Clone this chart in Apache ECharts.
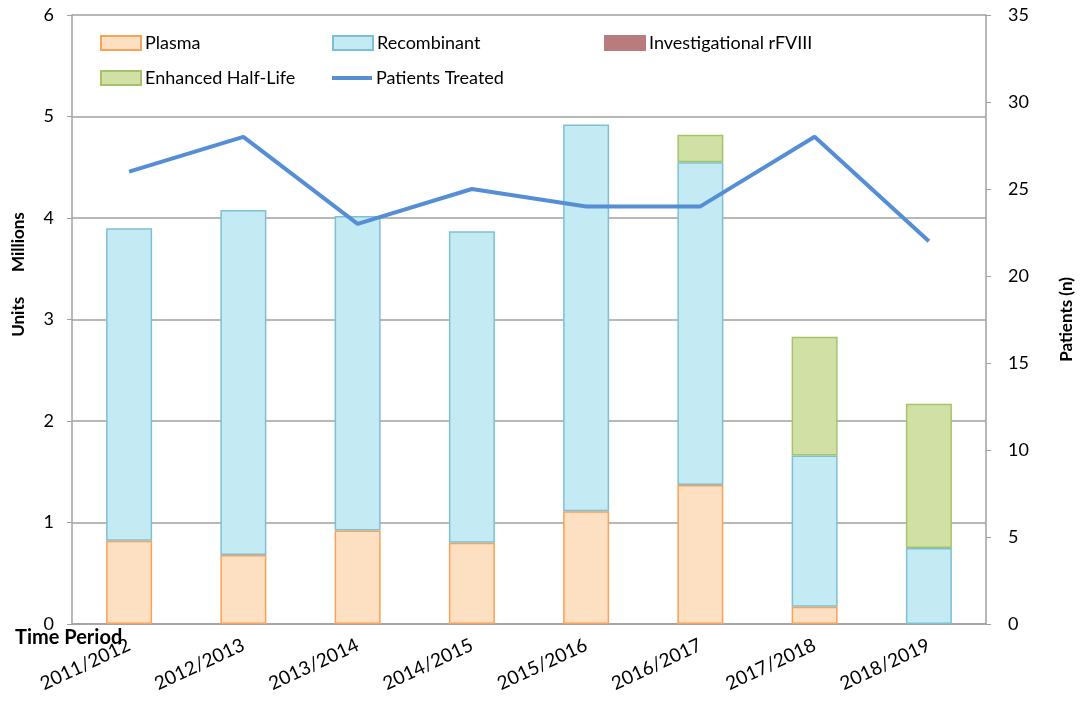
<!DOCTYPE html>
<html>
<head>
<meta charset="utf-8">
<script src="https://cdn.jsdelivr.net/npm/echarts@6/dist/echarts.min.js"></script>
<style>
html,body{margin:0;padding:0;background:#fff;}
#chart{width:1083px;height:706px;}
</style>
</head>
<body>
<div id="chart"></div>
<script>
const categories = ['2011/2012','2012/2013','2013/2014','2014/2015','2015/2016','2016/2017','2017/2018','2018/2019'];
const plasma = [0.82, 0.68, 0.92, 0.80, 1.11, 1.37, 0.17, 0];
const recombinant = [3.08, 3.40, 3.10, 3.07, 3.81, 3.18, 1.49, 0.75];
const investigational = [0, 0, 0, 0, 0, 0, 0, 0];
const enhancedHalfLife = [0, 0, 0, 0, 0, 0.27, 1.17, 1.42];
const patientsTreated = [26, 28, 23, 25, 24, 24, 28, 22];
const leftTicks = [0, 1, 2, 3, 4, 5, 6];
const rightTicks = [0, 5, 10, 15, 20, 25, 30, 35];

const FONT = 'Lato';
const FS = 18;
const chart = echarts.init(document.getElementById('chart'), null, {renderer: 'canvas'});

function legendAt(name, left, top, extra) {
  return Object.assign({
    data: [{name: name, icon: 'rect'}], left: left, top: top, padding: 0,
    itemWidth: 40, itemHeight: 14, itemGap: 0,
    textStyle: {fontFamily: FONT, fontSize: FS, color: '#000', padding: [0, 0, 0, -1]}
  }, extra || {});
}

const hideZero = arr => arr.map(v => (v === 0 ? '-' : v));
const barStyle = (fill, border) => ({color: fill, borderColor: border, borderWidth: 1.5});

chart.setOption({
  animation: false,
  textStyle: {fontFamily: FONT},
  grid: {left: 72, right: 97, top: 15, bottom: 82, containLabel: false},
  legend: [
    legendAt('Plasma', 100, 34),
    legendAt('Recombinant', 332, 34),
    legendAt('Investigational rFVIII', 604, 34),
    legendAt('Enhanced Half-Life', 100, 69),
    legendAt('Patients Treated', 332, 69, {itemHeight: 4})
  ],
  graphic: [{
    type: 'text', left: 15, top: 628,
    style: {text: 'Time Period', font: 'bold 20px ' + FONT, fill: '#000'}
  }],
  xAxis: {
    type: 'category', data: categories,
    axisLine: {lineStyle: {color: '#A0A0A0', width: 1.5}},
    axisTick: {show: false},
    axisLabel: {rotate: 25, margin: 20, fontSize: 19, color: '#000', fontFamily: FONT, interval: 0}
  },
  yAxis: [{
    type: 'value', min: 0, max: 6, interval: 1,
    name: 'Units      Millions', nameLocation: 'middle', nameGap: 45,
    nameTextStyle: {fontWeight: 'bold', fontSize: 17, color: '#000', fontFamily: FONT, padding: [0, 0, 0, 90]},
    axisLine: {show: true, lineStyle: {color: '#A0A0A0', width: 1.5}},
    axisTick: {show: true, length: 5, lineStyle: {color: '#A0A0A0'}},
    axisLabel: {margin: 18, fontSize: FS, color: '#000', fontFamily: FONT,
      formatter: v => leftTicks.includes(v) ? String(v) : ''},
    splitLine: {show: true, lineStyle: {color: '#A0A0A0', width: 1.5}}
  }, {
    type: 'value', min: 0, max: 35, interval: 5, position: 'right',
    name: 'Patients (n)', nameLocation: 'middle', nameGap: 72,
    nameTextStyle: {fontWeight: 'bold', fontSize: 17, color: '#000', fontFamily: FONT},
    axisLine: {show: true, lineStyle: {color: '#A0A0A0', width: 1.5}},
    axisTick: {show: true, length: 5, lineStyle: {color: '#A0A0A0'}},
    axisLabel: {margin: 22, fontSize: FS, color: '#000', fontFamily: FONT,
      formatter: v => rightTicks.includes(v) ? String(v) : ''},
    splitLine: {show: false}
  }],
  series: [
    {name: 'Plasma', type: 'bar', stack: 'u', data: hideZero(plasma), barWidth: 46,
     itemStyle: barStyle('#FDDFC2', '#F9A25A')},
    {name: 'Recombinant', type: 'bar', stack: 'u', data: hideZero(recombinant), barWidth: 46,
     itemStyle: barStyle('#C4EAF4', '#7EC0D3')},
    {name: 'Investigational rFVIII', type: 'bar', stack: 'u', data: hideZero(investigational), barWidth: 46,
     itemStyle: barStyle('#B97B7B', '#B97B7B')},
    {name: 'Enhanced Half-Life', type: 'bar', stack: 'u', data: hideZero(enhancedHalfLife), barWidth: 46,
     itemStyle: barStyle('#D1E1A5', '#A6C36C')},
    {name: 'Patients Treated', type: 'line', yAxisIndex: 1, data: patientsTreated,
     symbol: 'none', lineStyle: {color: '#558ED5', width: 4}, itemStyle: {color: '#558ED5'}, z: 5}
  ]
});
</script>
</body>
</html>
